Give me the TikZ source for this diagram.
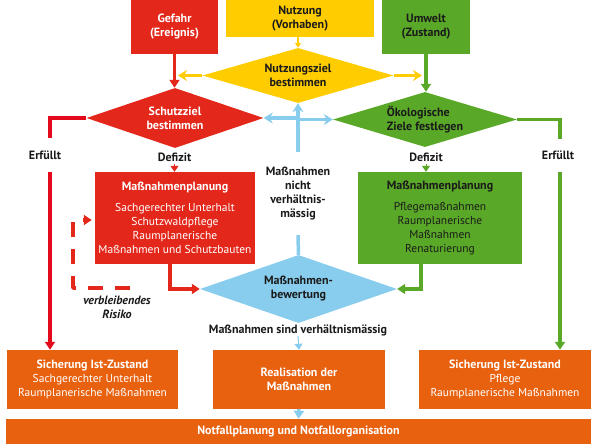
\documentclass[tikz,border=0pt]{standalone}
\usepackage{fontspec}
\setmainfont{PT Sans}
\usetikzlibrary{shapes.geometric,arrows.meta,calc}
\definecolor{cred}{HTML}{E3281B}
\definecolor{credl}{HTML}{E30A1C}
\definecolor{cyel}{HTML}{FFCC00}
\definecolor{cgrn}{HTML}{5AA828}
\definecolor{cblu}{HTML}{88CDED}
\definecolor{corg}{HTML}{E8610F}
\definecolor{ctxt}{HTML}{1A1A1A}
\newcommand\fsn{\fontsize{11.5}{14}\selectfont}
\newcommand\fsb{\fontsize{12}{14}\selectfont\bfseries}
\begin{document}
\begin{tikzpicture}[x=1pt,y=-1pt,
  every node/.style={font=\fsn, inner sep=0pt, align=center},
  box/.style={rectangle, draw=none},
  dia/.style={diamond, shape aspect=3, font=\fsb},
  lbl/.style={font=\fsb, text=ctxt},
  bigtip/.style={-{Triangle[length=8pt,width=10pt]}},
  smalltip/.style={-{Triangle[length=6pt,width=8pt]}},
  stealthtip/.style={-{Stealth[length=9pt,width=11pt,inset=3pt]}},
  redline/.style={draw=cred, line width=3.5pt},
  redlline/.style={draw=credl, line width=3.5pt},
  grnline/.style={draw=cgrn, line width=3.5pt},
  bluline/.style={draw=cblu, line width=3.5pt},
  yelline/.style={draw=cyel, line width=3pt},
]
\useasboundingbox (0,0) rectangle (595,444);

% top boxes
\node[box, fill=cred, text=white, font=\fsb, minimum width=87, minimum height=54] (gef) at (174.5,27) {Gefahr\\(Ereignis)};
\node[box, fill=cyel, text=ctxt, font=\fsb, minimum width=148, minimum height=37] (nut) at (300,18.5) {Nutzung\\(Vorhaben)};
\node[box, fill=cgrn, text=ctxt, font=\fsb, minimum width=88, minimum height=54] (umw) at (426,27) {Umwelt\\(Zustand)};

% diamonds
\node[dia, fill=cyel, text=ctxt, minimum width=191, minimum height=55] (ny) at (298,75.5) {Nutzungsziel\\bestimmen};
\node[dia, fill=cred, text=white, minimum width=177, minimum height=60] (sz) at (175,118) {Schutzziel\\bestimmen};
\node[dia, fill=cgrn, text=ctxt, align=left, minimum width=184, minimum height=55] (oz) at (425,119.5) {Ökologische\\Ziele festlegen};
\node[dia, fill=cblu, text=ctxt, minimum width=197, minimum height=68] (mb) at (298.5,289) {Maßnahmen-\\bewertung};

% planning boxes
\node[box, fill=cred, text=white, minimum width=160, minimum height=92] (mpr) at (175,218)
  {{\fsb Maßnahmenplanung}\\[7pt]Sachgerechter Unterhalt\\Schutzwaldpflege\\Raumplanerische\\Maßnahmen und Schutzbauten};
\node[box, fill=cgrn, text=ctxt, minimum width=164, minimum height=92] (mpg) at (440,218)
  {{\fsb Maßnahmenplanung}\\[7pt]Pflegemaßnahmen\\Raumplanerische\\Maßnahmen\\Renaturierung};

% bottom boxes
\node[box, fill=corg, text=white, minimum width=171, minimum height=59] (sl) at (92.5,379.5)
  {{\fsb Sicherung Ist-Zustand}\\Sachgerechter Unterhalt\\Raumplanerische Maßnahmen};
\node[box, fill=corg, text=white, font=\fsb, minimum width=172, minimum height=59] (rm) at (299,379.5)
  {Realisation der\\Maßnahmen};
\node[box, fill=corg, text=white, minimum width=172, minimum height=59] (sr) at (505,379.5)
  {{\fsb Sicherung Ist-Zustand}\\Pflege\\Raumplanerische Maßnahmen};
\node[box, fill=corg, text=white, font=\fsb, minimum width=585, minimum height=26] (nf) at (298.5,432)
  {Notfallplanung und Notfallorganisation};

% labels
\node[lbl, minimum height=34] (erl) at (45,155) {Erfüllt};
\node[lbl, minimum height=34] (err) at (558,155) {Erfüllt};
\node[lbl, minimum height=14] (defl) at (174.5,157) {Defizit};
\node[lbl, minimum height=14] (defr) at (426,157) {Defizit};
\node[lbl, minimum height=83] (nicht) at (298,193.5) {Maßnahmen\\nicht\\verhältnis-\\mässig};
\node[lbl, minimum height=12] (sind) at (298,330) {Maßnahmen sind verhältnismässig};
\node[lbl, font=\fsb\itshape] (risk) at (117,307) {verbleibendes\\Risiko};

% coordinates
\coordinate (ll1) at (50,138);
\coordinate (ll2) at (50,172);
\coordinate (rl1) at (560,139);
\coordinate (rl2) at (560,172);
\coordinate (dk1) at (130,288);
\coordinate (dk2) at (73,220);

% connectors
\draw[draw=cyel, line width=1.5pt, -{Triangle[length=5pt,width=6pt]}] (ny.north |- nut.south) -- (ny.north);
\draw[yelline, stealthtip] (ny.west) -- ($(sz.north |- ny.west)+(3,0)$);
\draw[yelline, stealthtip] (ny.east) -- ($(oz.north |- ny.east)+(-3,0)$);
\draw[redline, bigtip] (gef.south) -- (gef.south |- sz.north);
\draw[grnline, bigtip] (umw.south) -- (umw.south |- oz.north);

\draw[bluline] (mb.north) -- (nicht.south);
\draw[bluline, stealthtip] (nicht.north) -- (ny.south);
\draw[bluline, stealthtip] (ny.south |- sz.east) -- (sz.east);
\draw[bluline, stealthtip] (ny.south |- oz.west) -- (oz.west);

\draw[redlline] (sz.west) -| (ll1);
\draw[redlline, bigtip] (ll2) -- (ll2 |- sl.north);
\draw[grnline] (oz.east) -| (rl1);
\draw[grnline, bigtip] (rl2) -- (rl2 |- sr.north);

\draw[draw=cred, line width=1pt, smalltip] (defl.south) -- (defl.south |- mpr.north);
\draw[draw=cgrn, line width=1pt, smalltip] (defr.south) -- (defr.south |- mpg.north);

\draw[redline, bigtip] ([xshift=-5pt]mpr.south) |- (mb.west);
\draw[grnline, bigtip] ([xshift=-19pt]mpg.south) |- (mb.east);
\draw[redline, line join=round, dash pattern=on 15pt off 12pt, bigtip] (dk1) -| (dk2) -- ($(dk2 -| mpr.west)+(-3,0)$);

\draw[draw=cblu, line width=1pt, smalltip] (sind.south) -- (rm.north);
\draw[bluline, bigtip] (rm.south) -- (nf.north);
\end{tikzpicture}
\end{document}
